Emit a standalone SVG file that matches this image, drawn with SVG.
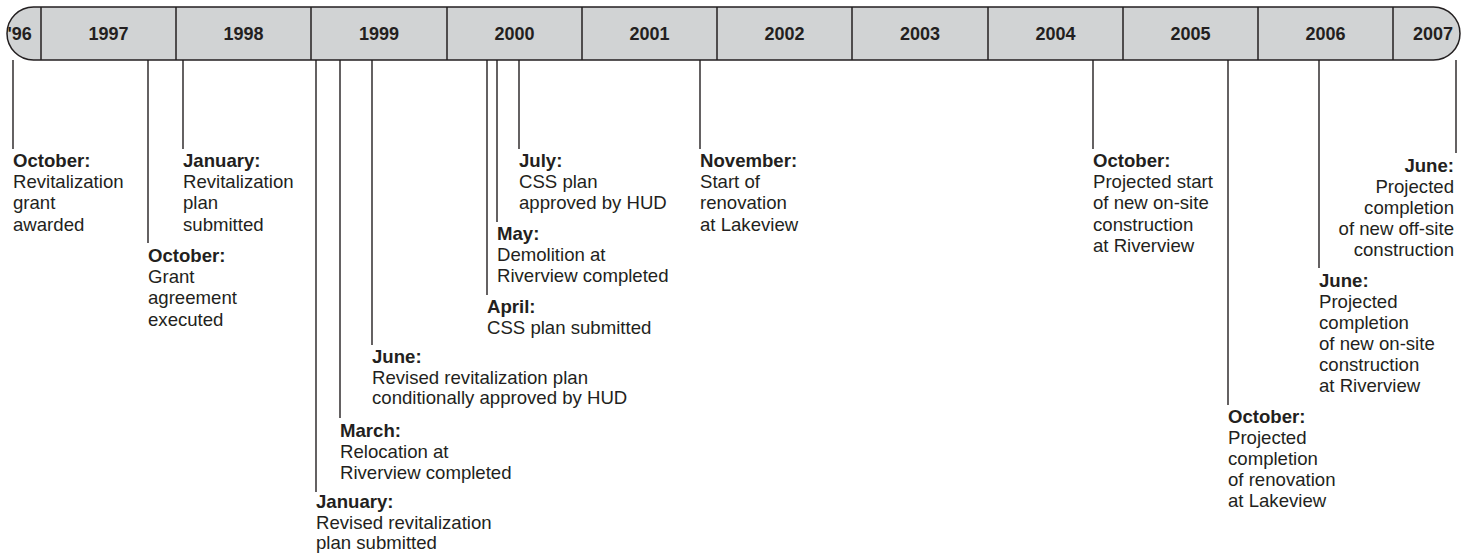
<svg xmlns="http://www.w3.org/2000/svg" width="1469" height="557" viewBox="0 0 1469 557">
<style>
.bg{fill:#ffffff}
.bar{fill:#d1d3d4;stroke:#231f20;stroke-width:1.5}
.div{stroke:#231f20;stroke-width:1.5}
.yr{font-family:"Liberation Sans",Arial,sans-serif;font-size:18px;font-weight:bold;fill:#231f20;text-anchor:middle}
.conn line{stroke:#231f20;stroke-width:1.4}
.lbl{font-family:"Liberation Sans",Arial,sans-serif;font-size:18.6px;fill:#231f20}
.lbl .h{font-weight:bold}
.r{text-anchor:end}
</style>
<rect class="bg" x="0" y="0" width="1469" height="557"/>
<g id="timeline-bar">
<path class="bar" d="M33.5,7 H1433.5 A26.5,26.5 0 0 1 1433.5,60 H33.5 A26.5,26.5 0 0 1 33.5,7 Z"/>
<g>
<line class="div" x1="41" y1="7" x2="41" y2="60"/>
<line class="div" x1="176" y1="7" x2="176" y2="60"/>
<line class="div" x1="311" y1="7" x2="311" y2="60"/>
<line class="div" x1="447" y1="7" x2="447" y2="60"/>
<line class="div" x1="582" y1="7" x2="582" y2="60"/>
<line class="div" x1="717" y1="7" x2="717" y2="60"/>
<line class="div" x1="852" y1="7" x2="852" y2="60"/>
<line class="div" x1="988" y1="7" x2="988" y2="60"/>
<line class="div" x1="1123" y1="7" x2="1123" y2="60"/>
<line class="div" x1="1258" y1="7" x2="1258" y2="60"/>
<line class="div" x1="1393" y1="7" x2="1393" y2="60"/>
</g>
<text class="yr" x="7.5" y="40" style="text-anchor:start">'96</text>
<text class="yr" x="108.5" y="40">1997</text>
<text class="yr" x="243.5" y="40">1998</text>
<text class="yr" x="379" y="40">1999</text>
<text class="yr" x="514.5" y="40">2000</text>
<text class="yr" x="649.5" y="40">2001</text>
<text class="yr" x="784.5" y="40">2002</text>
<text class="yr" x="920" y="40">2003</text>
<text class="yr" x="1055.5" y="40">2004</text>
<text class="yr" x="1190.5" y="40">2005</text>
<text class="yr" x="1325.5" y="40">2006</text>
<text class="yr" x="1453" y="40" style="text-anchor:end">2007</text>
</g>
<g id="connectors" class="conn">
<line x1="13" y1="60" x2="13" y2="149"/>
<line x1="148" y1="60" x2="148" y2="243"/>
<line x1="183" y1="60" x2="183" y2="149"/>
<line x1="316" y1="60" x2="316" y2="492"/>
<line x1="340" y1="60" x2="340" y2="418"/>
<line x1="372" y1="60" x2="372" y2="345"/>
<line x1="487" y1="60" x2="487" y2="295"/>
<line x1="497" y1="60" x2="497" y2="222"/>
<line x1="519" y1="60" x2="519" y2="149"/>
<line x1="700" y1="60" x2="700" y2="149"/>
<line x1="1093" y1="60" x2="1093" y2="149"/>
<line x1="1228" y1="60" x2="1228" y2="405"/>
<line x1="1319" y1="60" x2="1319" y2="268"/>
<line x1="1456" y1="60" x2="1456" y2="153"/>
</g>
<g id="ev-oct-1996">
<text class="lbl" y="167"><tspan class="h" x="13">October:</tspan><tspan x="13" dy="21.2">Revitalization</tspan><tspan x="13" dy="21.2">grant</tspan><tspan x="13" dy="21.2">awarded</tspan></text>
</g>
<g id="ev-oct-1997">
<text class="lbl" y="262"><tspan class="h" x="148">October:</tspan><tspan x="148" dy="21.2">Grant</tspan><tspan x="148" dy="21.2">agreement</tspan><tspan x="148" dy="21.2">executed</tspan></text>
</g>
<g id="ev-jan-1998">
<text class="lbl" y="167"><tspan class="h" x="183">January:</tspan><tspan x="183" dy="21.2">Revitalization</tspan><tspan x="183" dy="21.2">plan</tspan><tspan x="183" dy="21.2">submitted</tspan></text>
</g>
<g id="ev-jan-1999">
<text class="lbl" y="508"><tspan class="h" x="316">January:</tspan><tspan x="316" dy="20.7">Revised revitalization</tspan><tspan x="316" dy="20.7">plan submitted</tspan></text>
</g>
<g id="ev-mar-1999">
<text class="lbl" y="437"><tspan class="h" x="340">March:</tspan><tspan x="340" dy="21">Relocation at</tspan><tspan x="340" dy="21">Riverview completed</tspan></text>
</g>
<g id="ev-jun-1999">
<text class="lbl" y="363"><tspan class="h" x="372">June:</tspan><tspan x="372" dy="20.7">Revised revitalization plan</tspan><tspan x="372" dy="20.7">conditionally approved by HUD</tspan></text>
</g>
<g id="ev-apr-2000">
<text class="lbl" y="313"><tspan class="h" x="487">April:</tspan><tspan x="487" dy="21">CSS plan submitted</tspan></text>
</g>
<g id="ev-may-2000">
<text class="lbl" y="240"><tspan class="h" x="497">May:</tspan><tspan x="497" dy="21">Demolition at</tspan><tspan x="497" dy="21">Riverview completed</tspan></text>
</g>
<g id="ev-jul-2000">
<text class="lbl" y="167"><tspan class="h" x="519">July:</tspan><tspan x="519" dy="21.2">CSS plan</tspan><tspan x="519" dy="21.2">approved by HUD</tspan></text>
</g>
<g id="ev-nov-2002">
<text class="lbl" y="167"><tspan class="h" x="700">November:</tspan><tspan x="700" dy="21.2">Start of</tspan><tspan x="700" dy="21.2">renovation</tspan><tspan x="700" dy="21.2">at Lakeview</tspan></text>
</g>
<g id="ev-oct-2004">
<text class="lbl" y="167"><tspan class="h" x="1093">October:</tspan><tspan x="1093" dy="21.2">Projected start</tspan><tspan x="1093" dy="21.2">of new on-site</tspan><tspan x="1093" dy="21.2">construction</tspan><tspan x="1093" dy="21.2">at Riverview</tspan></text>
</g>
<g id="ev-oct-2005">
<text class="lbl" y="423"><tspan class="h" x="1228">October:</tspan><tspan x="1228" dy="21">Projected</tspan><tspan x="1228" dy="21">completion</tspan><tspan x="1228" dy="21">of renovation</tspan><tspan x="1228" dy="21">at Lakeview</tspan></text>
</g>
<g id="ev-jun-2006">
<text class="lbl" y="287"><tspan class="h" x="1319">June:</tspan><tspan x="1319" dy="21">Projected</tspan><tspan x="1319" dy="21">completion</tspan><tspan x="1319" dy="21">of new on-site</tspan><tspan x="1319" dy="21">construction</tspan><tspan x="1319" dy="21">at Riverview</tspan></text>
</g>
<g id="ev-jun-2007">
<text class="lbl r" y="172"><tspan class="h" x="1454">June:</tspan><tspan x="1454" dy="21">Projected</tspan><tspan x="1454" dy="21">completion</tspan><tspan x="1454" dy="21">of new off-site</tspan><tspan x="1454" dy="21">construction</tspan></text>
</g>
</svg>
